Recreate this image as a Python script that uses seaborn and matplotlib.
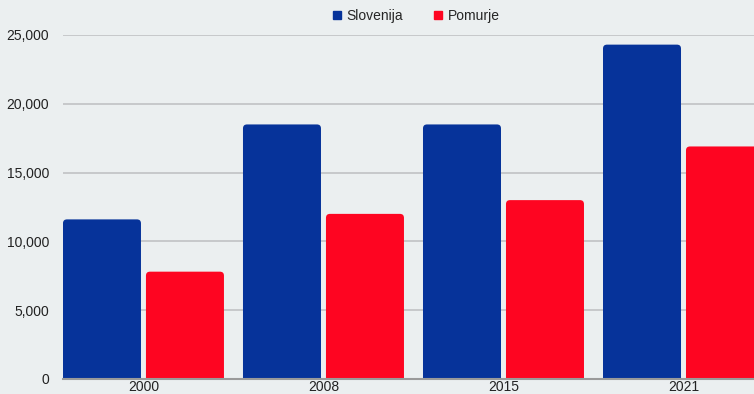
import matplotlib
matplotlib.use("Agg")
import matplotlib.pyplot as plt
from matplotlib.patches import FancyBboxPatch
from matplotlib.lines import Line2D
from matplotlib.ticker import FuncFormatter
import seaborn as sns
import pandas as pd

years = ["2000", "2008", "2015", "2021"]
slovenija = [11600, 18500, 18500, 24300]
pomurje = [7800, 12000, 13000, 16900]
series_names = ["Slovenija", "Pomurje"]
colors = ["#06339A", "#FE0521"]
bg = "#EBEFF0"

df = pd.DataFrame({
    "year": years * 2,
    "value": slovenija + pomurje,
    "region": [series_names[0]] * len(years) + [series_names[1]] * len(years),
})

sns.set_theme(style="white")
plt.rcParams["font.family"] = ["Liberation Sans", "DejaVu Sans"]

W, H = 754, 394
fig = plt.figure(figsize=(W / 100, H / 100), dpi=100, facecolor=bg)
ax = fig.add_axes([63 / W, 15 / H, (W - 63) / W, (379 - 35) / H])
ax.set_facecolor(bg)

sns.barplot(data=df, x="year", y="value", hue="region", order=years,
            hue_order=series_names, palette=colors, width=0.922, gap=0.06,
            saturation=1, ax=ax, legend=False)

# replace plain bars with bars rounded at the top
ymax = 25000
ax.set_ylim(0, ymax)
ax.set_xlim(-0.447, (W - 143.5) / 180)
px_x = 1 / 180.0
px_y = ymax / 344.0
r_px = 4
for p in list(ax.patches):
    x0, y0 = p.get_x(), p.get_y()
    w, h = p.get_width(), p.get_height()
    fc = p.get_facecolor()
    p.remove()
    rb = FancyBboxPatch((x0, y0 - r_px * px_y * 2), w, h + r_px * px_y * 2,
                        boxstyle=f"round,pad=0,rounding_size={r_px * px_x}",
                        mutation_aspect=px_y / px_x,
                        facecolor=fc, edgecolor="none", zorder=2)
    ax.add_patch(rb)

ax.set_yticks([0, 5000, 10000, 15000, 20000, 25000])
ax.yaxis.set_major_formatter(FuncFormatter(lambda v, _: f"{int(v):,}"))
ax.grid(axis="y", color="#C0C2C4", linewidth=1.2, zorder=0)
ax.set_axisbelow(True)
for s in ["top", "right", "left"]:
    ax.spines[s].set_visible(False)
ax.spines["bottom"].set_color("#9A9A9A")
ax.spines["bottom"].set_linewidth(1.5)
ax.spines["bottom"].set_zorder(3)
ax.tick_params(axis="both", length=0, labelsize=10, colors="#222222")
ax.tick_params(axis="y", pad=10)
ax.tick_params(axis="x", pad=0.5)
ax.set_xlabel("")
ax.set_ylabel("")

handles = [Line2D([], [], marker="s", linestyle="none", markersize=6,
                  markerfacecolor=c, markeredgecolor=c) for c in colors]
fig.legend(handles, series_names, loc="center", bbox_to_anchor=(415 / W, 1 - 16 / H),
           ncol=2, frameon=False, fontsize=10, handletextpad=0.2,
           columnspacing=2.0, handlelength=1.0)

fig.savefig("out.png", dpi=100, facecolor=bg)
